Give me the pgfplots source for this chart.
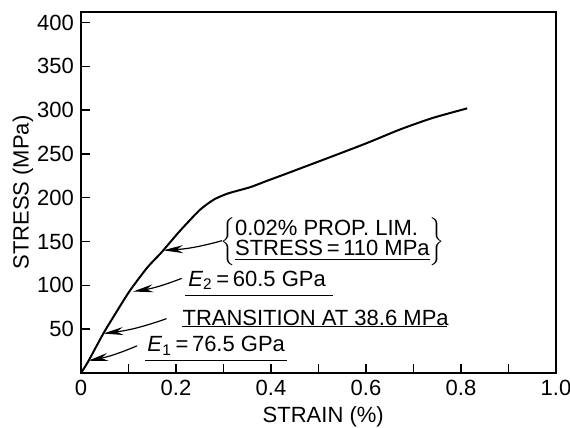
\documentclass[border=0pt]{standalone}
\usepackage{fontspec}
\setmainfont{Liberation Sans}
\usepackage{pgfplots}
\pgfplotsset{compat=1.18}
\usetikzlibrary{arrows.meta}

\begin{document}
\begin{tikzpicture}
\begin{axis}[
  scale only axis, width=237.5pt, height=180.5pt,
  xmin=0, xmax=1, ymin=0, ymax=412,
  xtick={0,0.1,0.2,0.3,0.4,0.5,0.6,0.7,0.8,0.9,1.0},
  xticklabels={0,,0.2,,0.4,,0.6,,0.8,,1.0},
  ytick={50,100,150,200,250,300,350,400},
  xtick pos=left, ytick pos=left, tick align=inside,
  major tick length=4.5pt,
  tick style={black, line width=0.7pt},
  axis line style={line width=0.8pt},
  /pgf/number format/assume math mode=true,
  tick label style={font=\fontsize{11}{12}\selectfont},
  label style={font=\fontsize{11}{12}\selectfont},
  xlabel={STRAIN (\%)},
  ylabel={STRESS (MPa)},
  xlabel style={at={(axis description cs:0.51,0)}, anchor=center, yshift=-22pt},
  ylabel style={at={(axis description cs:0,0.5)}, anchor=center, yshift=29pt},
  clip=false,
]
\addplot[black, line width=1pt, smooth, tension=0.4] coordinates {
  (0,0) (0.015,13) (0.047,45) (0.075,70) (0.103,94) (0.139,120) (0.17,138)
  (0.208,162) (0.25,186) (0.28,198) (0.31,205) (0.356,212) (0.39,219)
  (0.425,226) (0.518,245) (0.6,262) (0.672,278) (0.74,291) (0.813,302)
};

% annotations
\begin{scope}[font=\fontsize{11}{12}\selectfont]
\node[anchor=west, inner sep=0] at (axis cs:0.139,31)
  {\textit{E}\textsubscript{1}\,=\,76.5 GPa};
\draw[line width=0.6pt] (axis cs:0.135,14) -- (axis cs:0.434,14);
\node[anchor=west, inner sep=0] at (axis cs:0.213,63) {TRANSITION AT 38.6 MPa};
\draw[line width=0.6pt] (axis cs:0.213,53) -- (axis cs:0.77,53);
\node[anchor=west, inner sep=0] at (axis cs:0.225,106)
  {\textit{E}\textsubscript{2}\,=\,60.5 GPa};
\draw[line width=0.6pt] (axis cs:0.22,88) -- (axis cs:0.53,88);
\node[anchor=west, inner sep=0] at (axis cs:0.292,150)
  {$\left\{\fontsize{11}{11}\selectfont\begin{tabular}{@{}l@{}}0.02\% PROP. LIM.\\[-1pt]
   \underline{STRESS\,=\,110 MPa}\end{tabular}\right\}$};
\end{scope}
\begin{scope}[line width=0.6pt, -{Stealth[length=10pt,width=4pt]}]
\draw (axis cs:0.118,31) to[bend left=6] (axis cs:0.015,14);
\draw (axis cs:0.18,62) to[bend left=6] (axis cs:0.047,45);
\draw (axis cs:0.212,108) to[bend left=6] (axis cs:0.11,93);
\draw (axis cs:0.297,151) to[bend left=6] (axis cs:0.173,140);
\end{scope}
\end{axis}
\pgfresetboundingbox
\path (-40.5pt,-27.5pt) rectangle (244.5pt,186.5pt);
\end{tikzpicture}
\end{document}
